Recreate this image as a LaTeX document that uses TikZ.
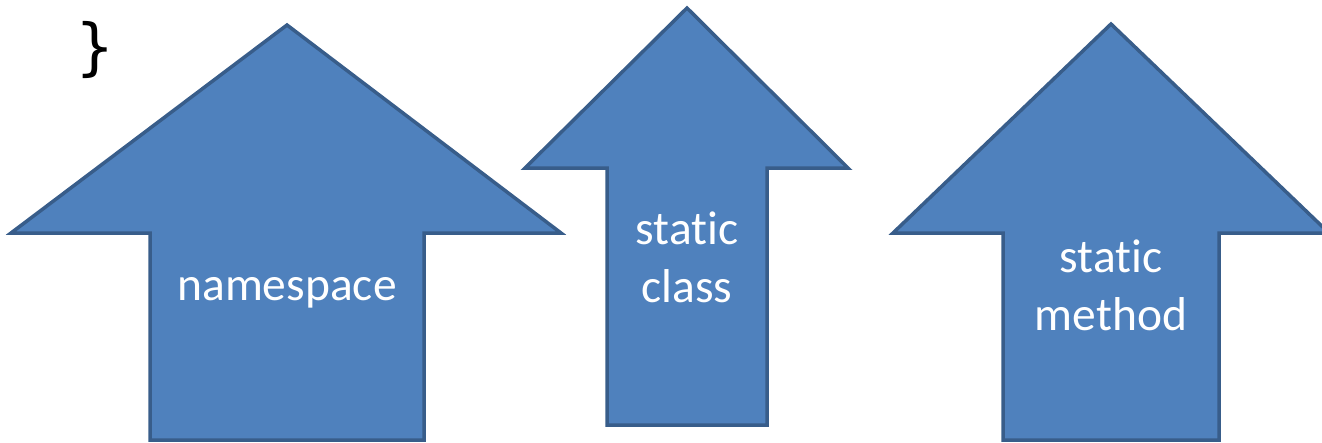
\documentclass[tikz,border=0pt]{standalone}
\usepackage{fontspec}
\setmainfont{Carlito}[RawFeature=-liga]
\newfontfamily\bracefont{DejaVu Sans Mono}
\definecolor{arrowfill}{HTML}{4F81BD}
\definecolor{arrowline}{HTML}{385D8A}
\begin{document}
\begin{tikzpicture}[x=1pt,y=-1pt,
  uparrow/.style={fill=arrowfill,draw=arrowline,line width=3.5pt,line join=miter},
  lbl/.style={text=white,font=\fontsize{47.5}{58}\selectfont,align=center,anchor=base,inner sep=0pt}]
\useasboundingbox (0,0) rectangle (1322,442);
% arrow 1
\draw[uparrow] (287,25) -- (561,233) -- (424,233) -- (424,440) -- (150,440) -- (150,233) -- (11,233) -- cycle;
% arrow 2
\draw[uparrow] (687,8) -- (848,168) -- (767,168) -- (767,425) -- (607,425) -- (607,168) -- (525,168) -- cycle;
% arrow 3
\draw[uparrow] (1111,24) -- (1329,233) -- (1219,233) -- (1219,440) -- (1003,440) -- (1003,233) -- (893,233) -- cycle;
\node[lbl] (ns) at (287,300) {namespace};
\node[lbl] (sc) at (687,302) {static\\class};
\node[lbl] (sm) at (1111,330) {static\\method};
\node[font=\bracefont\fontsize{62}{62}\selectfont,inner sep=0pt,anchor=center] (brace) at (95,50) {\}};
\end{tikzpicture}
\end{document}
